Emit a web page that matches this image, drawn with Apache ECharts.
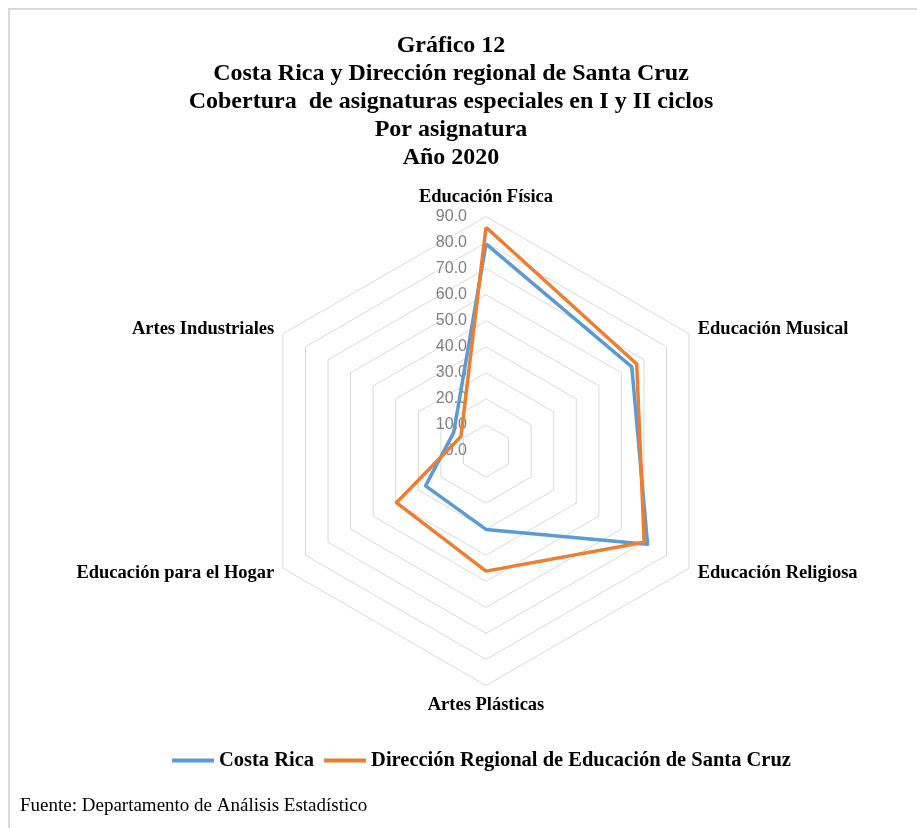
<!DOCTYPE html>
<html>
<head>
<meta charset="utf-8">
<script src="https://cdn.jsdelivr.net/npm/echarts@6/dist/echarts.min.js"></script>
<style>
  html, body { margin: 0; padding: 0; background: #fff; }
  #chart { width: 917px; height: 828px; }
</style>
</head>
<body>
<div id="chart"></div>
<script>
// asignaturas, en el orden de Excel (sentido horario desde arriba)
const subjects = ['Educación Física', 'Educación Musical', 'Educación Religiosa', 'Artes Plásticas', 'Educación para el Hogar', 'Artes Industriales']
// cobertura (%)
const costaRica = [79.5, 64.6, 71.6, 30.1, 26.8, 14.3]
const santaCruz = [85.9, 66.8, 70.1, 46.1, 39.7, 11.1]
const seriesNames = ['Costa Rica', 'Dirección Regional de Educación de Santa Cruz']
const tickValues = [0, 10, 20, 30, 40, 50, 60, 70, 80, 90]

const titleText = 'Gráfico 12\nCosta Rica y Dirección regional de Santa Cruz\nCobertura  de asignaturas especiales en I y II ciclos\nPor asignatura\nAño 2020'
const sourceText = 'Fuente: Departamento de Análisis Estadístico'

const serif = '"Liberation Serif", "Times New Roman", serif'
const center = [486, 451]
const radius = 234.5
const maxVal = tickValues[tickValues.length - 1]

// echarts coloca los indicadores en sentido antihorario: invertir la cola
const reorder = arr => [arr[0]].concat(arr.slice(1).reverse())

const myChart = echarts.init(document.getElementById('chart'))
const option = {
    animation: false,
    color: ['#5B9BD5', '#ED7D31'],
    title: [{
        text: titleText,
        left: 446,
        top: 27,
        textAlign: 'center',
        textStyle: { fontFamily: serif, fontWeight: 'bold', fontSize: 24, lineHeight: 28, color: '#000' }
    }, {
        text: sourceText,
        left: 15,
        top: 792,
        textStyle: { fontFamily: serif, fontWeight: 'normal', fontSize: 19, color: '#000' }
    }],
    legend: {
        left: 167,
        top: 745,
        itemWidth: 42,
        itemHeight: 4,
        itemGap: 10,
        icon: 'rect',
        textStyle: { fontFamily: serif, fontWeight: 'bold', fontSize: 20.5, color: '#000' },
        data: seriesNames
    },
    graphic: [{
        type: 'rect',
        silent: true,
        shape: { x: 9, y: 9, width: 1000, height: 1000 },
        style: { fill: 'none', stroke: '#d9d9d9', lineWidth: 2 }
    }],
    radar: {
        center: center,
        radius: radius,
        startAngle: 90,
        shape: 'polygon',
        splitNumber: tickValues.length - 1,
        indicator: reorder(subjects).map(s => ({ name: s, min: 0, max: maxVal })),
        axisName: { color: '#000', fontFamily: serif, fontWeight: 'bold', fontSize: 18.5 },
        nameGap: 10,
        axisLine: { show: false },
        axisTick: { show: false },
        axisLabel: { show: false },
        splitArea: { show: false },
        splitLine: { lineStyle: { color: '#d9d9d9', width: 1 } }
    },
    // eje de valores sobre el radio superior, sólo para las etiquetas
    grid: { left: center[0], top: center[1] - radius, width: 10, height: radius },
    xAxis: { type: 'value', show: false },
    yAxis: {
        type: 'value',
        min: 0,
        max: maxVal,
        interval: 10,
        axisLine: { show: false },
        axisTick: { show: false },
        splitLine: { show: false },
        axisLabel: {
            margin: 19,
            color: '#7f7f7f',
            fontFamily: '"Liberation Sans", Arial, sans-serif',
            fontSize: 16,
            formatter: v => v.toFixed(1)
        }
    },
    series: [{
        type: 'radar',
        symbol: 'none',
        lineStyle: { width: 3.5 },
        data: [
            { name: seriesNames[0], value: reorder(costaRica), lineStyle: { width: 3.5, color: '#5B9BD5' }, itemStyle: { color: '#5B9BD5' } },
            { name: seriesNames[1], value: reorder(santaCruz), lineStyle: { width: 3.5, color: '#ED7D31' }, itemStyle: { color: '#ED7D31' } }
        ]
    }]
}
myChart.setOption(option)
</script>
</body>
</html>
